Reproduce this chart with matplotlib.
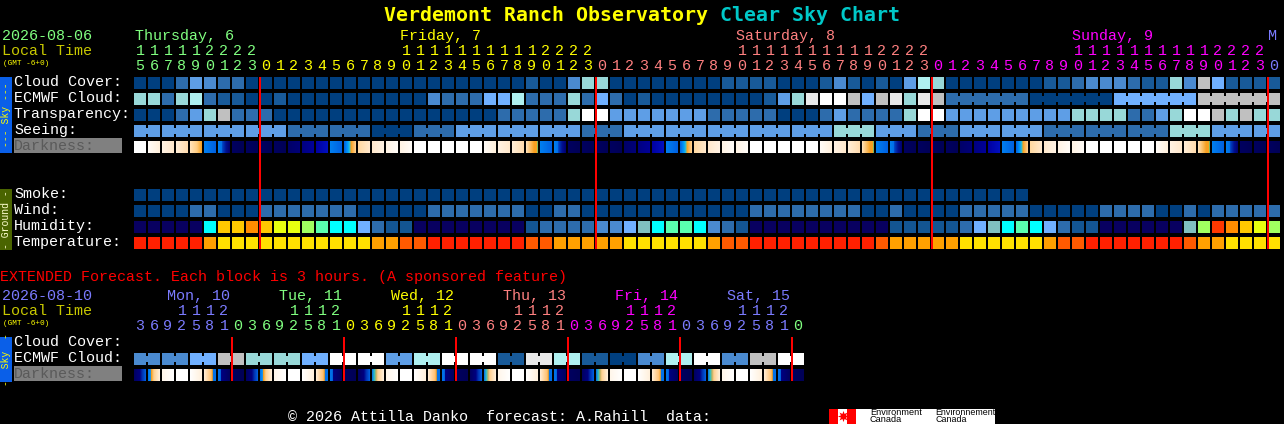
import numpy as np
import matplotlib
matplotlib.use("Agg")
import matplotlib.pyplot as plt
from matplotlib.colors import LinearSegmentedColormap
from matplotlib.patches import Rectangle

plt.rcParams["font.family"] = ["Liberation Mono", "DejaVu Sans Mono"]

# hourly columns: one letter per block, see the palettes below
cloud_cover = list("aaacedcca" + "aaaaaaaaaaaa" + "aaaaaaabaadgg" + "aaaaaaaabbbbaaabdb"
                   + "abaehgaaaaaaabbcdddcbbgdkfbbbb")
ecmwf_cloud = list("ggcghcbbaabaaaaaaaaaa" + "dcccffhcccgcfcabaaaaaaaabegijjk"
                   + "fkigik" + "cccccc" + "aaaaaa" + "ffffff" + "kkkkkk")
ecmwf_links = [6] * 4
transparency = list("aaacegkccc" + "aaaaaaaaaaa" + "aaaaacccccgjjeeeeeeecccccaaacec"
                    + "cccgjjeeeeeeeeeggggccegjjkgkgg")
seeing_groups = list("eeeeccaceeeceeeeegeceecccgee")
seeing_sizes = [2] + [3] * 26 + [2]
darkness = list("wabcdefnnnnmMreDpqttw" + "wwwwabcgefnnnnmMreDpqttwwwwwabc"
                + "gefnnnnmMreDpqttwwwwwabcgefnnn")
smoke = list("a" * 64)
wind = list("aaaaccaaacccccccaaaaa" + "cccccccaaccaaaaaaaaaaaacccccccc"
            + "aacaaaacccccaaaaaccccaacaccccc")
humidity = list("nnnnnCYYOYLLGMCCfcbbn" + "nnnnnnnbccccddfTCMMCdcbnnnnnnnn"
                + "nnbbbbbcfTCMCfcbbnnnnnnTGROYLG")
temperature = list("rrrrroyyyyyyyyyyyoossr"[:21] + "rrrrrrrssoooooyyyyyyossrrrrrrrr"[:31]
                   + "rsoooooyyyyyyossrrrrrrrsooyyyy")

hour_tens = "111112222" + "          11111111112222" * 3 + " "
hour_ones = "567890123" + "012345678901234567890123" * 3 + "0"
hour_day_sizes = [9, 24, 24, 24, 1]
day_labels = ["Thursday, 6", "Friday, 7", "Saturday, 8", "Sunday, 9", "M"]
day_label_cols = [0, 19, 43, 67, 81]
midnight_cols = [9, 33, 57, 81]

# 3 hourly columns of the extended forecast
ext_ecmwf = list("ddfkggfjjehjjbihbadhjdkj")
ext_darkness = list("hijwklon" + "hijwklon" + "hIjwklon" + "hIjwklon" + "hIjwklon" + "hIjwklon")
ext_tens = "   1112 " * 6
ext_ones = "3692581" + "03692581" * 5 + "0"
ext_day_sizes = [7, 8, 8, 8, 8, 8, 1]
ext_day_labels = ["Mon, 10", "Tue, 11", "Wed, 12", "Thu, 13", "Fri, 14", "Sat, 15"]
ext_midnight_cols = [7, 15, 23, 31, 39, 47]

# colours
sky_colors = {"a": "#003f7f", "b": "#185a99", "c": "#2d6cac", "d": "#4a8ad0", "e": "#5e9ee6",
              "f": "#70b0ff", "g": "#98d8d8", "h": "#aff0f0", "i": "#e8e8e8", "j": "#ffffff",
              "k": "#c0c0c0"}
humidity_colors = {"n": "#080060", "b": "#135592", "c": "#2d6cac", "d": "#4a8ad0", "f": "#70b0ff",
                   "T": "#80c0c0", "C": "#00ffff", "M": "#5affaf", "G": "#a0ff60", "L": "#e8ff10",
                   "Y": "#ffc800", "O": "#ff8c00", "R": "#ff3800"}
temp_colors = {"r": "#ff2000", "s": "#ff5a00", "o": "#ffa000", "y": "#ffe000"}
dark_stops = {
    "w": ["#ffffff", "#ffffff"],
    "a": ["#fffcf8", "#fff0dc"],
    "b": ["#fff3e4", "#ffe8cc"],
    "c": ["#ffeed8", "#ffdcae"],
    "d": [(0, "#ffe3bc"), (0.6, "#ffcc80"), (1, "#f7a020")],
    "g": [(0, "#ffe3bc"), (0.7, "#f7a020"), (0.9, "#f7a020"), (1, "#60c070")],
    "e": ["#0080f0", "#0060e0"],
    "f": [(0, "#0080f0"), (0.3, "#0070e8"), (0.4, "#0040c0"), (0.7, "#001090"), (1, "#000070")],
    "n": ["#000060", "#000056"],
    "m": ["#000068", "#000078"],
    "M": ["#000080", "#000098"],
    "r": ["#0000a0", "#0010c0"],
    "D": [(0, "#0060e0"), (0.35, "#00a0ff"), (0.5, "#40c0c0"), (0.6, "#f7a020"), (1, "#ffd090")],
    "p": ["#ffd8a0", "#ffe8cc"],
    "q": ["#ffe8cc", "#fff3e4"],
    "t": ["#fff3e4", "#fffcf8"],
    "h": [(0, "#000060"), (0.5, "#000080"), (0.7, "#0030b0"), (1, "#0060e0")],
    "i": [(0, "#0070e8"), (0.2, "#0090ff"), (0.3, "#f7a020"), (0.5, "#ffd090"), (1, "#fff0dc")],
    "I": [(0, "#0070e8"), (0.2, "#30c0c0"), (0.35, "#c0b060"), (0.5, "#ffd090"), (1, "#fff0dc")],
    "j": ["#fff6ea", "#ffffff"],
    "k": ["#ffffff", "#fff0dc"],
    "l": [(0, "#ffeed8"), (0.6, "#ffc070"), (0.72, "#f7a020"), (0.75, "#0070e8"), (1, "#0070e8")],
    "o": [(0, "#0070e8"), (0.2, "#0070e8"), (0.3, "#000080"), (1, "#000060")],
}

GREEN, YELLOW, SALMON, MAGENTA, BLUE = "#80ff80", "#ffff00", "#ff8080", "#ff00ff", "#7b7bff"
hour_day_colors = [GREEN, YELLOW, SALMON, MAGENTA, BLUE]
ext_day_colors = [BLUE, GREEN, YELLOW, SALMON, MAGENTA, BLUE, GREEN]

# block layout in pixels
LEFT, PITCH, BLOCK = 134, 14, 12
FS = 10.8

fig = plt.figure(figsize=(12.84, 4.24), dpi=100, facecolor="black")
ax = fig.add_axes([0, 0, 1, 1])
ax.set_facecolor("black")
ax.axis("off")


def box(x, y, w, h, color, z=2):
    # whole pixel edges, so antialiasing leaves them sharp
    ax.add_patch(Rectangle((x, y), w, h, facecolor=color, edgecolor="none", linewidth=0,
                           snap=False, zorder=z))


def draw_row(codes, y, palette, link_sizes=None, link_start=0):
    for i, code in enumerate(codes):
        box(LEFT + i * PITCH, y, BLOCK, BLOCK, palette[code])
    # blocks of one forecast are tied together by a small neck
    if link_sizes is not None:
        start = link_start
        for size in link_sizes:
            for i in range(start, start + size - 1):
                box(LEFT + i * PITCH + BLOCK, y + 3, PITCH - BLOCK, BLOCK - 6, palette[codes[i]])
            start += size


def draw_dark_row(codes, y):
    ramp = np.linspace(0, 1, BLOCK * 4)[None, :]
    for i, code in enumerate(codes):
        cmap = LinearSegmentedColormap.from_list(code, dark_stops[code])
        x = LEFT + i * PITCH
        ax.imshow(ramp, cmap=cmap, extent=(x, x + BLOCK, y + BLOCK, y), aspect="auto",
                  interpolation="nearest", zorder=2)


def label(x, y, s, color="white", **kw):
    kw.setdefault("fontsize", FS)
    ax.text(x, y, s, color=color, va="baseline", **kw)


def draw_hours(tens, ones, sizes, colors, y_tens, y_ones):
    col_colors = np.repeat(colors, sizes)
    for i, (t, o) in enumerate(zip(tens, ones)):
        label(LEFT + i * PITCH + 6, y_tens, t, col_colors[i], ha="center")
        label(LEFT + i * PITCH + 6, y_ones, o, col_colors[i], ha="center")


def strip(y0, y1, color, text, text_color):
    box(0, y0, 12, y1 - y0, color)
    ax.text(6, (y0 + y1) / 2, text, color=text_color, fontsize=7, rotation=90,
            ha="center", va="center", zorder=3)


def darkness_label(y):
    box(14, y - 12, 108, 15, "#808080")
    label(14, y, "Darkness:", "#5a5a5a", zorder=3)


# title
label(384, 21, "Verdemont Ranch Observatory", "#ffff00", fontsize=14.35, fontweight="bold",
      family="DejaVu Sans Mono")
label(720, 21, "Clear Sky Chart", "#00c8c8", fontsize=14.35, fontweight="bold",
      family="DejaVu Sans Mono")

# hourly header
label(2, 40, "2026-08-06", GREEN)
label(2, 55, "Local Time", "#c8c800")
label(3, 65, "(GMT -6+0)", "#ffff00", fontsize=5.6)
for col, text, color in zip(day_label_cols, day_labels, hour_day_colors):
    label(LEFT + col * PITCH + (1 if col == 0 else 0), 40, text, color)
draw_hours(hour_tens, hour_ones, hour_day_sizes, hour_day_colors, 55, 70)

# sky rows
strip(77, 153, "#0a5fe8", "--- Sky ---", "#ffff00")
for y, text in zip([86, 102, 118, 134], ["Cloud Cover:", "ECMWF Cloud:", "Transparency:", "Seeing:"]):
    label(14, y, text)
darkness_label(150)
draw_row(cloud_cover, 77, sky_colors)
draw_row(ecmwf_cloud, 93, sky_colors, ecmwf_links, 58)
draw_row(transparency, 109, sky_colors)
draw_row(list(np.repeat(seeing_groups, seeing_sizes)), 125, sky_colors, seeing_sizes)
draw_dark_row(darkness, 141)

# ground rows
strip(189, 250, "#4a6400", "- Ground -", "#ffffd0")
for y, text in zip([198, 214, 230, 246], ["Smoke:", "Wind:", "Humidity:", "Temperature:"]):
    label(14, y, text)
draw_row(smoke, 189, sky_colors)
draw_row(wind, 205, sky_colors)
draw_row(humidity, 221, humidity_colors)
draw_row(temperature, 237, temp_colors)

for col in midnight_cols:
    box(LEFT + col * PITCH - 1, 77, 2, 172, "#ff0000", z=4)

# extended forecast
label(0, 281, "EXTENDED Forecast. Each block is 3 hours. (A sponsored feature)", "#ff0000")
label(2, 300, "2026-08-10", BLUE)
label(2, 315, "Local Time", "#c8c800")
label(3, 325, "(GMT -6+0)", "#ffff00", fontsize=5.6)
for i, (text, color) in enumerate(zip(ext_day_labels, ext_day_colors)):
    label(167 + i * 8 * PITCH, 300, text, color)
draw_hours(ext_tens, ext_ones, ext_day_sizes, ext_day_colors, 315, 330)

strip(337, 382, "#0a5fe8", "-  Sky  -", "#ffff00")
label(14, 346, "Cloud Cover:")
label(14, 362, "ECMWF Cloud:")
darkness_label(378)
draw_row(list(np.repeat(ext_ecmwf, 2)), 353, sky_colors, [2] * 24)
draw_dark_row(ext_darkness, 369)
for col in ext_midnight_cols:
    box(LEFT + col * PITCH - 1, 337, 2, 44, "#ff0000", z=4)

# footer with the Environment Canada logo
label(288, 421, "\u00a9 2026 Attilla Danko  forecast: A.Rahill  data:")
box(829, 409, 166, 15, "#ffffff")
box(829, 409, 9, 15, "#ff0000", z=3)
box(847, 409, 9, 15, "#ff0000", z=3)
ax.plot([842.5], [416], marker=(8, 1, 0), markersize=8, color="#ff0000", markeredgewidth=0, zorder=3)
for x, word, size in zip([870, 935], ["Environment", "Environnement"], [6.6, 6.4]):
    ax.text(x, 415, word, color="black", fontsize=size, family="Liberation Sans", zorder=4)
    ax.text(x, 422.5, "Canada", color="black", fontsize=size, family="Liberation Sans", zorder=4)

ax.set_xlim(0, 1284)
ax.set_ylim(424, 0)
fig.savefig("out.png", dpi=100, facecolor="black")
